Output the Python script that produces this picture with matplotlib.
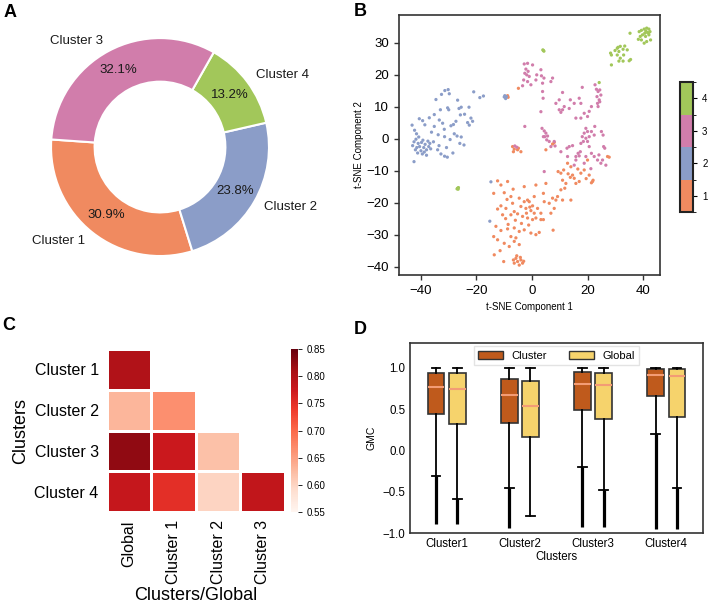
import numpy as np
import matplotlib
matplotlib.use("Agg")
import matplotlib.pyplot as plt
from matplotlib.colors import ListedColormap, BoundaryNorm
from matplotlib.patches import Patch

plt.rcParams['font.family'] = ['Liberation Sans', 'DejaVu Sans']

# colours for the four clusters
c_orange = '#f08a60'
c_blue = '#8b9dc8'
c_pink = '#d17dab'
c_green = '#a2c75a'

# A: cluster share
pie_labels = ['Cluster 1', 'Cluster 2', 'Cluster 4', 'Cluster 3']
pie_sizes = [30.9, 23.8, 13.2, 32.1]
pie_colors = [c_orange, c_blue, c_green, c_pink]

# B: t-SNE points per cluster
c1_pts = [(-12.4, -13.2), (-11.2, -14.5), (-8.8, -13.4), (-13.8, -17.1), (-10.0, -16.9), (-6.8, -15.8),
          (-2.8, -15.0), (1.4, -14.5), (-7.6, -18.1), (-4.6, -18.6), (-1.6, -19.2), (0.8, -18.1), (4.1, -17.1),
          (-11.2, -21.0), (-9.4, -21.8), (-7.0, -20.2), (-4.0, -21.2), (-2.2, -21.8), (-0.4, -22.5), (2.0, -21.8),
          (-7.6, -23.8), (-5.2, -23.5), (-3.4, -24.3), (-1.6, -24.8), (0.2, -25.3), (1.4, -24.8), (3.2, -25.3),
          (-13.0, -27.4), (-11.2, -28.7), (-8.8, -28.2), (-6.4, -27.9), (-4.6, -29.0), (-2.8, -28.5),
          (-0.4, -29.5), (1.4, -30.0), (2.6, -29.3), (-12.4, -31.6), (-10.0, -32.7), (-8.2, -33.7),
          (-6.4, -32.1), (-4.6, -33.1), (-13.6, -36.3), (-10.2, -38.4),
          (-5.8, -37.4), (-5.2, -38.4), (-4.0, -37.9), (-3.4, -38.9), (-4.6, -39.5), (-6.4, -38.9),
          (-4.2, -37.1), (-3.0, -38.3), (-6.7, -37.9), (-5.5, -36.6),
          (-1.0, -19.7), (0.2, -21.0), (0.8, -23.3), (-2.0, -23.3), (-0.8, -21.4), (-2.8, -19.7),
          (-6.4, -22.8), (-8.6, -26.8), (-10.6, -23.8), (-12.4, -22.0), (-13.8, -30.6), (-7.6, -30.6),
          (3.2, -23.3), (4.1, -25.3), (7.6, -28.6), (-9.5, -25.0), (-3.8, -26.5), (-1.2, -27.0),
          (-5.8, -31.0), (-11.5, -35.0), (-9.0, -19.0), (-6.0, -25.5),
          (4.4, -19.7), (6.2, -20.2), (7.4, -18.6), (8.6, -19.2), (8.0, -21.8), (6.8, -23.3), (9.2, -18.1),
          (11.0, -19.2), (14.0, -19.2), (10.4, -16.0), (11.8, -15.5), (5.0, -14.0),
          (9.4, -10.3), (10.4, -10.8), (11.4, -9.8), (12.8, -7.7), (14.0, -8.8), (14.6, -11.4), (15.2, -12.4),
          (13.8, -12.1), (15.8, -14.0), (17.0, -13.4), (17.6, -10.8), (18.8, -9.8), (20.6, -11.4),
          (21.8, -13.4), (21.4, -13.8), (12.2, -14.0), (11.0, -13.0), (20.0, -6.7), (27.2, -5.6),
          (27.8, -5.8), (16.5, -9.5), (13.0, -11.0), (19.5, -12.5), (22.0, -13.0),
          (-7.0, -2.5), (-6.4, -3.3), (-5.2, -3.5), (-4.0, -4.1), (-6.7, -4.1), (-4.9, -3.0),
          (5.0, -3.5), (7.4, -1.7), (8.0, -1.2), (-4.9, 15.7), (-8.6, 12.9), (-8.8, 13.4)]

c2_pts = [(-34.6, 12.2), (-32.6, 13.8), (-31.4, 15.0), (-30.2, 15.3), (-29.8, 14.0), (-26.8, 12.0),
          (-25.5, 9.8), (-26.3, 9.4), (-30.4, 9.6), (-30.0, 9.0), (-21.0, 14.6), (-18.8, 12.8), (-17.5, 13.3),
          (-22.7, 9.8), (-25.8, 7.4), (-24.3, 7.6), (-33.0, 9.0), (-35.2, 7.5), (-37.0, 6.5), (-39.4, 5.6),
          (-40.6, 6.2), (-38.6, 4.3), (-43.2, 4.2), (-42.3, 2.6), (-41.6, 1.5),
          (-33.4, 5.8), (-32.2, 4.8), (-35.2, 3.8), (-31.6, 2.9), (-29.2, 4.0), (-28.3, 4.4), (-27.4, 5.4),
          (-22.0, 6.4), (-21.4, 5.4), (-22.6, 4.2), (-23.2, 5.0), (-28.0, 1.5), (-27.0, 0.8), (-25.5, 0.5),
          (-29.5, -0.3), (-31.5, 0.6), (-33.8, 1.2), (-35.5, -1.0), (-36.2, 2.0), (-34.0, -3.5),
          (-32.8, -4.8), (-31.5, -5.5), (-30.5, -5.8), (-28.5, -4.5), (-26.0, -1.5), (-24.5, -2.0),
          (-33.5, -2.2), (-30.8, -2.8),
          (-42.5, -1.0), (-41.8, -0.2), (-41.0, -1.5), (-40.5, -2.5), (-39.8, -1.2), (-39.0, -2.8),
          (-38.5, -1.8), (-38.0, -3.5), (-37.5, -0.8), (-41.5, -2.8), (-40.0, -3.8), (-39.3, -0.5),
          (-38.8, -4.2), (-37.2, -2.5), (-36.5, -3.2), (-40.8, 0.5), (-42.0, -3.5), (-39.5, -4.8),
          (-38.0, -5.2), (-36.8, -1.5), (-41.2, -4.5), (-43.0, -2.2),
          (-42.5, -7.2), (-14.8, -13.5), (-15.2, -25.8),
          (-10.0, 13.0), (-9.5, 12.5), (-9.8, 13.4), (-9.2, 13.1)]

c3_pts = [(-2.8, 23.3), (-1.6, 23.5), (0.2, 23.0), (-2.2, 21.7), (-2.6, 20.4), (-1.9, 19.9), (-1.4, 21.0),
          (-1.0, 19.4), (-3.0, 18.3), (-1.6, 17.8), (-0.4, 16.8), (-3.4, 16.5), (1.7, 19.9), (3.2, 21.5),
          (3.4, 19.6), (4.3, 18.9), (3.8, 17.3), (1.4, 18.3), (7.4, 18.9), (6.8, 17.8), (3.8, 14.7),
          (4.0, 12.6), (3.2, 8.4), (-2.6, 3.8),
          (9.8, 12.1), (8.6, 11.0), (9.8, 9.0), (10.4, 8.2), (11.0, 9.0), (11.6, 10.0), (11.0, 14.4),
          (13.8, 12.1), (15.2, 11.0), (13.4, 9.4), (17.0, 12.6), (17.6, 11.0), (18.8, 7.9), (20.0, 6.9),
          (20.6, 8.5), (15.8, 6.4), (17.6, 6.4), (18.1, 16.0), (21.4, 10.0),
          (22.7, 16.8), (23.2, 15.4), (23.8, 14.7), (24.4, 15.2), (23.4, 13.1), (24.2, 12.1), (23.6, 11.0),
          (24.4, 11.5), (24.8, 13.6), (23.8, 10.0),
          (3.6, 3.2), (4.4, 2.4), (5.0, 1.7), (4.6, 0.6), (5.6, 0.8), (5.3, -0.4), (4.1, 0.6), (6.2, -0.9),
          (8.0, -0.9), (6.8, -2.5), (8.3, -2.3),
          (19.4, 3.2), (20.0, 2.2), (18.8, 1.7), (18.1, 0.6), (19.4, 0.1), (20.0, -0.9), (18.5, -0.9),
          (17.6, -1.5), (20.6, 0.6), (21.4, 2.2), (22.4, 1.1), (22.6, 3.8), (25.0, 2.2), (25.6, 1.1),
          (17.4, -4.1), (16.6, -4.6), (17.0, -5.4), (15.8, -5.6), (13.4, -2.5), (14.6, -2.2), (12.6, -3.0),
          (10.4, -4.1), (20.6, -2.5), (21.4, -4.6), (22.4, -5.6), (23.6, -6.7), (24.8, -7.7), (25.8, -2.5),
          (26.2, -3.0), (24.1, -5.1), (25.4, -6.7), (26.6, -8.3), (19.4, -5.6), (18.8, -7.7), (15.2, -8.3),
          (15.8, -6.7), (12.8, -5.6), (21.2, -9.4),
          (-6.2, -2.3), (-5.5, -2.7), (4.4, -10.3)]

c4_pts = [(38.6, 33.4), (39.4, 33.8), (40.4, 34.2), (41.3, 34.5), (42.1, 34.2), (42.5, 33.4), (41.6, 33.1),
          (40.6, 32.9), (39.8, 32.4), (39.0, 31.9), (38.3, 31.0), (42.1, 32.4), (40.9, 31.9), (42.7, 30.8),
          (40.4, 29.8), (41.3, 30.3), (39.4, 30.8), (35.3, 32.9), (41.0, 33.6), (42.0, 33.0),
          (30.7, 28.2), (31.3, 27.2), (31.8, 28.8), (32.8, 27.9), (33.4, 28.9), (34.3, 27.7), (33.0, 26.1),
          (31.8, 25.1), (30.7, 26.1), (28.3, 26.7), (28.6, 26.1), (28.6, 23.0), (35.5, 24.7), (35.0, 24.3),
          (32.8, 24.2), (31.3, 24.2), (29.9, 27.5), (31.0, 28.5),
          (4.1, 27.5), (4.3, 27.3), (3.9, 27.7), (-26.8, -15.5), (-26.5, -15.3), (-27.0, -15.7),
          (-26.6, -15.8), (24.2, 17.5)]

# C: GMC similarity, lower triangle
heat_rows = ['Cluster 1', 'Cluster 2', 'Cluster 3', 'Cluster 4']
heat_cols = ['Global', 'Cluster 1', 'Cluster 2', 'Cluster 3']
heat_vals = [[0.800, np.nan, np.nan, np.nan],
             [0.630, 0.665, np.nan, np.nan],
             [0.825, 0.775, 0.620, np.nan],
             [0.780, 0.750, 0.600, 0.785]]

# D: box statistics
box_groups = ['Cluster1', 'Cluster2', 'Cluster3', 'Cluster4']
clu_q1 = [0.435, 0.333, 0.49, 0.66]
clu_med = [0.77, 0.675, 0.805, 0.915]
clu_q3 = [0.935, 0.866, 0.95, 0.985]
clu_lo = [-0.31, -0.455, -0.20, 0.195]
clu_hi = [1.0, 1.0, 1.0, 1.0]
clu_flier_min = [-0.89, -0.935, -0.93, -0.955]
glb_q1 = [0.32, 0.16, 0.38, 0.41]
glb_med = [0.74, 0.54, 0.79, 0.895]
glb_q3 = [0.935, 0.84, 0.94, 0.98]
glb_lo = [-0.585, -0.79, -0.475, -0.45]
glb_hi = [1.0, 1.0, 1.0, 1.0]
glb_flier_min = [-0.89, np.nan, -0.93, -0.955]

fig = plt.figure(figsize=(7.08, 6.14), dpi=100)

# ---- A: donut
axA = fig.add_axes([0.0105, 0.512, 0.431, 0.497])
axA.pie(pie_sizes, labels=pie_labels, colors=pie_colors, startangle=176, counterclock=True,
        autopct='%1.1f%%', pctdistance=0.8, labeldistance=1.1,
        wedgeprops=dict(width=0.4, edgecolor='white', linewidth=1.5),
        textprops=dict(fontsize=9.5, color='#1a1a1a'))
axA.set_xlim(-1.4, 1.4)
axA.set_ylim(-1.4, 1.4)
axA.set_aspect('equal')

# ---- B: t-SNE scatter
axB = fig.add_axes([0.5636, 0.5521, 0.3686, 0.4235])
cmap4 = ListedColormap([c_orange, c_blue, c_pink, c_green])
norm4 = BoundaryNorm([0.5, 1.5, 2.5, 3.5, 4.5], 4)
xs, ys, labs = [], [], []
for lab, pts in enumerate([c1_pts, c2_pts, c3_pts, c4_pts], start=1):
    for px, py in pts:
        xs.append(px)
        ys.append(py)
        labs.append(lab)
sc = axB.scatter(xs, ys, c=labs, cmap=cmap4, norm=norm4, s=5.5, edgecolors='none')
axB.set_xlim(-47.9, 46.1)
axB.set_ylim(-42.6, 38.6)
axB.set_xticks([-40, -20, 0, 20, 40])
axB.set_yticks([-40, -30, -20, -10, 0, 10, 20, 30])
axB.tick_params(labelsize=9.5, length=3.5, width=1, color='#333333')
axB.set_xlabel('t-SNE Component 1', fontsize=7)
axB.set_ylabel('t-SNE Component 2', fontsize=7, labelpad=2)
for sp in axB.spines.values():
    sp.set_color('#333333')
    sp.set_linewidth(1.2)

caxB = fig.add_axes([0.9605, 0.6547, 0.0184, 0.2117])
cbB = fig.colorbar(sc, cax=caxB, ticks=[1, 2, 3, 4])
cbB.outline.set_linewidth(1.5)
cbB.outline.set_edgecolor('#222222')
caxB.tick_params(labelsize=7, length=3, width=0.8)

# ---- C: heatmap
axC = fig.add_axes([0.1511, 0.1661, 0.2514, 0.2655])
hm = np.ma.masked_invalid(np.array(heat_vals))
mesh = axC.pcolormesh(hm, cmap='Reds', vmin=0.55, vmax=0.85, edgecolors='white', linewidth=1)
axC.set_xlim(0, 4)
axC.set_ylim(4, 0)
axC.set_xticks(np.arange(4) + 0.5)
axC.set_xticklabels(heat_cols, rotation=90, fontsize=11.5)
axC.set_yticks(np.arange(4) + 0.5)
axC.set_yticklabels(heat_rows, fontsize=11.5)
axC.tick_params(length=0, pad=6)
for sp in axC.spines.values():
    sp.set_visible(False)
axC.set_xlabel('Clusters/Global', fontsize=13, labelpad=2)
axC.set_ylabel('Clusters', fontsize=13, labelpad=4)

caxC = fig.add_axes([0.411, 0.1661, 0.0099, 0.2655])
cbC = fig.colorbar(mesh, cax=caxC, ticks=[0.55, 0.60, 0.65, 0.70, 0.75, 0.80, 0.85])
cbC.outline.set_visible(False)
caxC.tick_params(labelsize=7, length=3, width=0.6)

# ---- D: boxplots
axD = fig.add_axes([0.5791, 0.1319, 0.4138, 0.3094])
stats = []
face = []
pos = []
for i in range(4):
    stats.append(dict(med=clu_med[i], q1=clu_q1[i], q3=clu_q3[i], whislo=clu_lo[i], whishi=clu_hi[i], fliers=[]))
    face.append('#bf5a1c')
    pos.append(i - 0.145)
    stats.append(dict(med=glb_med[i], q1=glb_q1[i], q3=glb_q3[i], whislo=glb_lo[i], whishi=glb_hi[i], fliers=[]))
    face.append('#f6d36c')
    pos.append(i + 0.145)
bp = axD.bxp(stats, positions=pos, widths=0.23, capwidths=0.12, patch_artist=True, showfliers=False,
             boxprops=dict(edgecolor='#333333', linewidth=1.2),
             whiskerprops=dict(color='black', linewidth=1.3),
             capprops=dict(color='black', linewidth=1.3),
             medianprops=dict(color='#f39c75', linewidth=1.5))
for patch, fc in zip(bp['boxes'], face):
    patch.set_facecolor(fc)
# dense outliers drawn as a thick run below the lower whisker
for i in range(4):
    if not np.isnan(clu_flier_min[i]):
        axD.vlines(i - 0.145, clu_flier_min[i], clu_lo[i], color='black', linewidth=2.3, zorder=1)
    if not np.isnan(glb_flier_min[i]):
        axD.vlines(i + 0.145, glb_flier_min[i], glb_lo[i], color='black', linewidth=2.3, zorder=1)
axD.set_xlim(-0.5, 3.5)
axD.set_ylim(-1.0, 1.3)
axD.set_xticks(range(4))
axD.set_xticklabels(box_groups)
axD.set_yticks([-1.0, -0.5, 0.0, 0.5, 1.0])
axD.tick_params(labelsize=8.3, length=0)
axD.set_xlabel('Clusters', fontsize=8.3, labelpad=1)
axD.set_ylabel('GMC', fontsize=7.5)
for sp in axD.spines.values():
    sp.set_color('#333333')
    sp.set_linewidth(1.2)
handles = [Patch(facecolor='#bf5a1c', edgecolor='#333333', label='Cluster'),
           Patch(facecolor='#f6d36c', edgecolor='#333333', label='Global')]
axD.legend(handles=handles, loc='upper center', ncol=2, fontsize=8, handlelength=2.2,
           columnspacing=2.0, borderaxespad=0.3, frameon=True, edgecolor='#dddddd', fancybox=False)

# panel letters
fig.text(0.005, 0.993, 'A', fontsize=13, fontweight='bold', va='top')
fig.text(0.500, 0.995, 'B', fontsize=13, fontweight='bold', va='top')
fig.text(0.003, 0.483, 'C', fontsize=13, fontweight='bold', va='top')
fig.text(0.500, 0.478, 'D', fontsize=13, fontweight='bold', va='top')

fig.savefig('out.png', dpi=100)
